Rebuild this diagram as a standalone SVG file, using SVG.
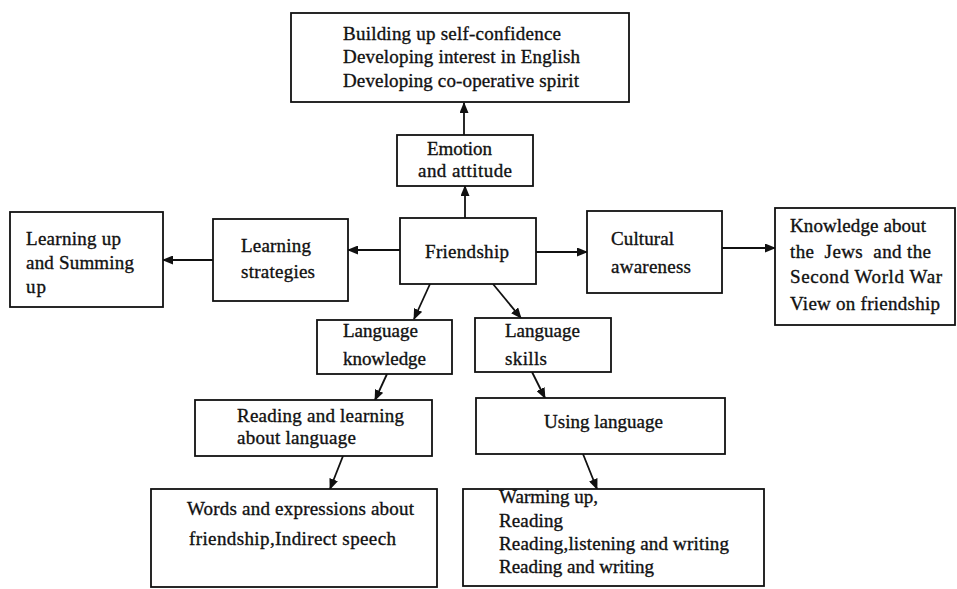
<svg xmlns="http://www.w3.org/2000/svg" width="957" height="589" viewBox="0 0 957 589">
<style>
.box{fill:#fff;stroke:#111;stroke-width:1.8}
.t{font-family:"Liberation Serif","Times New Roman",serif;font-size:19px;fill:#111;stroke:#111;stroke-width:0.35}
.c{stroke:#111;stroke-width:1.8;fill:none;marker-end:url(#ah)}
</style>
<defs>
<marker id="ah" markerUnits="userSpaceOnUse" markerWidth="11" markerHeight="9" refX="10" refY="4.5" orient="auto">
<path d="M0,0 L11,4.5 L0,9 z" fill="#111"/>
</marker>
</defs>
<rect width="957" height="589" fill="#fff"/>
<g id="connectors">
<line class="c" x1="464" y1="135" x2="464" y2="103"/>
<line class="c" x1="465" y1="218" x2="465" y2="186"/>
<line class="c" x1="400" y1="250" x2="348" y2="250"/>
<line class="c" x1="213" y1="260" x2="163" y2="260"/>
<line class="c" x1="536" y1="252" x2="587" y2="252"/>
<line class="c" x1="722" y1="248" x2="775" y2="248"/>
<line class="c" x1="430" y1="284" x2="414" y2="319"/>
<line class="c" x1="493" y1="284" x2="521" y2="318"/>
<line class="c" x1="387" y1="374" x2="375" y2="400"/>
<line class="c" x1="532" y1="372" x2="545" y2="398"/>
<line class="c" x1="343" y1="456" x2="330" y2="489"/>
<line class="c" x1="583" y1="454" x2="597" y2="489"/>
</g>
<g id="goals">
<rect class="box" x="291" y="13" width="338" height="89"/>
<text class="t" x="343" y="40" textLength="218">Building up self-confidence</text>
<text class="t" x="343" y="63" textLength="237">Developing interest in English</text>
<text class="t" x="343" y="87" textLength="236">Developing co-operative spirit</text>
</g>
<g id="emotion">
<rect class="box" x="397" y="135" width="136" height="51"/>
<text class="t" x="427" y="155" textLength="65">Emotion</text>
<text class="t" x="418" y="177" textLength="94">and attitude</text>
</g>
<g id="friendship">
<rect class="box" x="400" y="218" width="136" height="66"/>
<text class="t" x="425" y="258" textLength="84">Friendship</text>
</g>
<g id="strategies">
<rect class="box" x="213" y="219" width="135" height="82"/>
<text class="t" x="241" y="252" textLength="70">Learning</text>
<text class="t" x="241" y="278" textLength="74">strategies</text>
</g>
<g id="learning-up">
<rect class="box" x="10" y="212" width="153" height="95"/>
<text class="t" x="26" y="245" textLength="95">Learning up</text>
<text class="t" x="26" y="269" textLength="108">and Summing</text>
<text class="t" x="26" y="293" textLength="20">up</text>
</g>
<g id="cultural">
<rect class="box" x="587" y="211" width="135" height="82"/>
<text class="t" x="611" y="245" textLength="63">Cultural</text>
<text class="t" x="611" y="273" textLength="80">awareness</text>
</g>
<g id="knowledge">
<rect class="box" x="775" y="208" width="180" height="117"/>
<text class="t" x="790" y="232" textLength="136">Knowledge about</text>
<text class="t" x="790" y="258" textLength="141" xml:space="preserve">the  Jews  and the</text>
<text class="t" x="790" y="283" textLength="152">Second World War</text>
<text class="t" x="790" y="310" textLength="150">View on friendship</text>
</g>
<g id="language-knowledge">
<rect class="box" x="317" y="320" width="135" height="54"/>
<text class="t" x="343" y="337" textLength="75">Language</text>
<text class="t" x="343" y="365" textLength="83">knowledge</text>
</g>
<g id="language-skills">
<rect class="box" x="475" y="318" width="136" height="54"/>
<text class="t" x="505" y="337" textLength="75">Language</text>
<text class="t" x="505" y="365" textLength="42">skills</text>
</g>
<g id="reading-learning">
<rect class="box" x="195" y="400" width="237" height="56"/>
<text class="t" x="237" y="422" textLength="167">Reading and learning</text>
<text class="t" x="237" y="444" textLength="119">about language</text>
</g>
<g id="using-language">
<rect class="box" x="476" y="398" width="249" height="56"/>
<text class="t" x="544" y="428" textLength="119">Using language</text>
</g>
<g id="words">
<rect class="box" x="151" y="489" width="286" height="98"/>
<text class="t" x="187" y="515" textLength="227">Words and expressions about</text>
<text class="t" x="189" y="545" textLength="207">friendship,Indirect speech</text>
</g>
<g id="activities">
<rect class="box" x="463" y="489" width="301" height="97"/>
<text class="t" x="499" y="503" textLength="99">Warming up,</text>
<text class="t" x="499" y="527" textLength="64">Reading</text>
<text class="t" x="499" y="550" textLength="230">Reading,listening and writing</text>
<text class="t" x="499" y="573" textLength="155">Reading and writing</text>
</g>
</svg>
